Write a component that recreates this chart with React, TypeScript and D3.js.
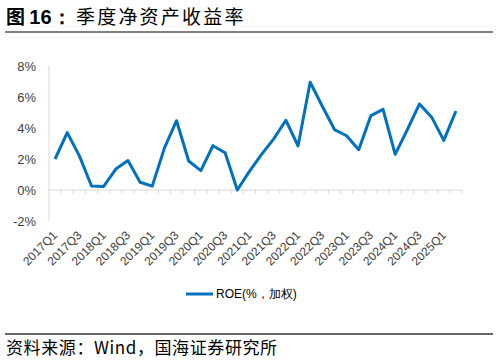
import * as d3 from "d3";
import React, { useEffect, useRef } from "react";

// 季度（2017Q1 - 2025Q2）
const quarters = [
  "2017Q1", "2017Q2", "2017Q3", "2017Q4",
  "2018Q1", "2018Q2", "2018Q3", "2018Q4",
  "2019Q1", "2019Q2", "2019Q3", "2019Q4",
  "2020Q1", "2020Q2", "2020Q3", "2020Q4",
  "2021Q1", "2021Q2", "2021Q3", "2021Q4",
  "2022Q1", "2022Q2", "2022Q3", "2022Q4",
  "2023Q1", "2023Q2", "2023Q3", "2023Q4",
  "2024Q1", "2024Q2", "2024Q3", "2024Q4",
  "2025Q1", "2025Q2",
];

// ROE(%，加权)
const roe = [
  2.0, 3.7, 2.2, 0.26, 0.23, 1.35, 1.9, 0.5,
  0.25, 2.7, 4.47, 1.87, 1.25, 2.86, 2.4, 0.0,
  1.2, 2.3, 3.3, 4.5, 2.84, 6.95, 5.4, 3.9,
  3.5, 2.6, 4.8, 5.2, 2.3, 3.9, 5.55, 4.7,
  3.2, 5.1,
];

const yTicks = [-2, 0, 2, 4, 6, 8];

const W = 498;
const H = 362;
const BLUE = "#0070C0";
const AXIS = "#D9D9D9";
const TXT = "#404040";
const LAT = "Arial, 'Liberation Sans', sans-serif";
const CJK = "'Noto Sans CJK SC', sans-serif";

export default function App() {
  const ref = useRef<SVGSVGElement>(null);

  useEffect(() => {
    const svg = d3.select(ref.current);
    svg.selectAll("*").remove();

    const x = d3.scaleBand<string>().domain(quarters).range([49, 462]).padding(0);
    const y = d3.scaleLinear().domain([-2, 8]).range([221, 66]);

    // 标题
    const title = svg.append("text").attr("x", 6).attr("y", 24).attr("fill", "#000");
    title.append("tspan").attr("font-family", CJK).attr("font-weight", "bold").attr("font-size", 19).text("图 ");
    title.append("tspan").attr("font-family", LAT).attr("font-weight", "bold").attr("font-size", 20).text("16：");
    svg
      .append("text")
      .attr("x", 76)
      .attr("y", 24)
      .attr("font-family", CJK)
      .attr("font-size", 19)
      .attr("letter-spacing", 2.2)
      .attr("fill", "#000")
      .text("季度净资产收益率");

    svg.append("line").attr("x1", 5).attr("x2", 493).attr("y1", 32).attr("y2", 32).attr("stroke", "#808080").attr("stroke-width", 2);

    // y 轴
    svg.append("line").attr("x1", 49).attr("x2", 49).attr("y1", y(8)).attr("y2", y(-2)).attr("stroke", AXIS);
    svg
      .append("g")
      .selectAll("text")
      .data(yTicks)
      .join("text")
      .attr("x", 36)
      .attr("y", (d) => y(d))
      .attr("dy", "0.35em")
      .attr("text-anchor", "end")
      .attr("font-family", LAT)
      .attr("font-size", 13)
      .attr("fill", TXT)
      .text((d) => `${d}%`);

    // x 轴（0% 位置）
    svg.append("line").attr("x1", 49).attr("x2", 462).attr("y1", y(0)).attr("y2", y(0)).attr("stroke", AXIS);
    const bounds = quarters.map((q) => x(q)! + x.bandwidth()).slice(0, -1).concat([462]);
    svg
      .append("g")
      .selectAll("line")
      .data(bounds)
      .join("line")
      .attr("x1", (d) => d)
      .attr("x2", (d) => d)
      .attr("y1", y(0))
      .attr("y2", y(0) + 4)
      .attr("stroke", AXIS);

    svg
      .append("g")
      .selectAll("text")
      .data(quarters.filter((_, i) => i % 2 === 0))
      .join("text")
      .attr("transform", (q) => `translate(${x(q)! + x.bandwidth() / 2 + 3},236) rotate(-45)`)
      .attr("text-anchor", "end")
      .attr("font-family", LAT)
      .attr("font-size", 12)
      .attr("fill", TXT)
      .text((q) => q);

    // 折线
    const line = d3
      .line<number>()
      .x((_, i) => x(quarters[i])! + x.bandwidth() / 2)
      .y((d) => y(d));
    svg
      .append("path")
      .datum(roe)
      .attr("d", line)
      .attr("fill", "none")
      .attr("stroke", BLUE)
      .attr("stroke-width", 3)
      .attr("stroke-linejoin", "round");

    // 图例
    svg.append("line").attr("x1", 186).attr("x2", 213).attr("y1", 294).attr("y2", 294).attr("stroke", BLUE).attr("stroke-width", 3);
    svg
      .append("text")
      .attr("x", 216)
      .attr("y", 298)
      .attr("font-family", LAT)
      .attr("font-size", 12)
      .attr("fill", "#000")
      .text("ROE(%，加权)");

    // 资料来源
    svg.append("line").attr("x1", 5).attr("x2", 493).attr("y1", 334).attr("y2", 334).attr("stroke", "#333").attr("stroke-width", 1.5);
    svg
      .append("text")
      .attr("x", 6)
      .attr("y", 354)
      .attr("font-family", CJK)
      .attr("font-size", 17)
      .attr("letter-spacing", 0.6)
      .attr("fill", "#000")
      .text("资料来源：Wind，国海证券研究所");
  }, []);

  return (
    <svg
      ref={ref}
      width={W}
      height={H}
      viewBox={`0 0 ${W} ${H}`}
      style={{ position: "absolute", left: 0, top: 0, background: "#fff" }}
    />
  );
}
